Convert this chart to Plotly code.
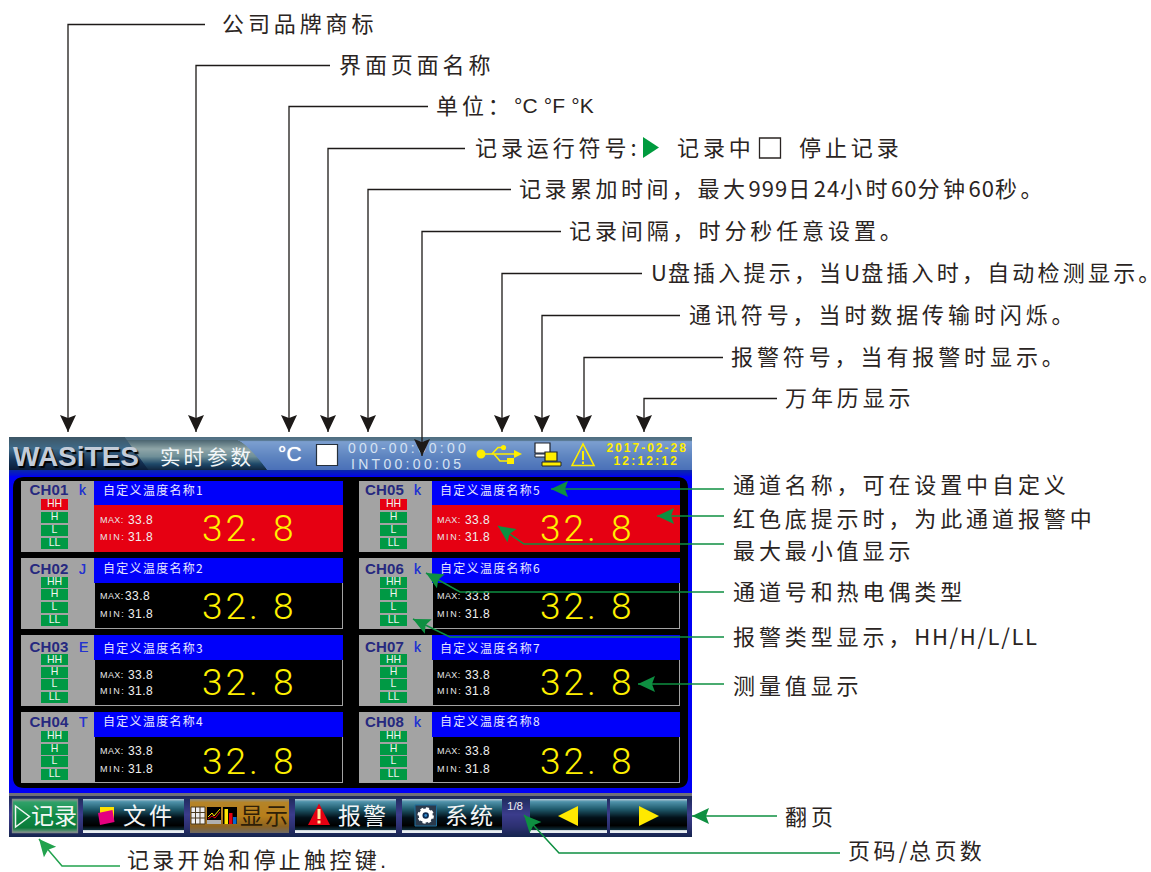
import re
import plotly.graph_objects as go

# ---------- data ----------
CHANNELS = ["CH01", "CH02", "CH03", "CH04", "CH05", "CH06", "CH07", "CH08"]
TC_TYPES = ["k", "J", "E", "T", "k", "k", "k", "k"]
NAMES = ["自定义温度名称%d" % i for i in range(1, 9)]
MAX_VALUES = ["33.8"] * 8
MIN_VALUES = ["31.8"] * 8
READINGS = ["32. 8"] * 8
ALARMING = [True, False, False, False, True, False, False, False]
ALARM_TAGS = ["HH", "H", "L", "LL"]
BUTTONS = ["记录", "文件", "显示", "报警", "系统"]

BLACK_LABELS = [
    ("公司品牌商标", 222, 24, 68, 205, 3.9),
    ("界面页面名称", 339, 65, 196, 330, 3.9),
    ("单位：", 436, 106, 289, 428, 3.9),
    ("记录运行符号:", 475, 148, 328, 465, 3.9),
    ("记录累加时间，最大999日24小时60分钟60秒。", 519, 189, 368, 511, 3.5),
    ("记录间隔，时分秒任意设置。", 569, 231, 422, 561, 3.9),
    ("U盘插入提示，当U盘插入时，自动检测显示。", 651, 273, 502, 642, 3.2),
    ("通讯符号，当时数据传输时闪烁。", 689, 315, 542, 680, 3.9),
    ("报警符号，当有报警时显示。", 731, 357, 584, 723, 3.9),
    ("万年历显示", 785, 398, 644, 777, 3.9),
]
GREEN_LABELS = [
    ("通道名称，可在设置中自定义", 733, 485, 3.9),
    ("红色底提示时，为此通道报警中", 733, 519, 3.9),
    ("最大最小值显示", 733, 551, 3.9),
    ("通道号和热电偶类型", 733, 592, 3.9),
    ("报警类型显示，HH/H/L/LL", 733, 637, 3.9),
    ("测量值显示", 733, 686, 3.9),
    ("翻页", 785, 817, 3.9),
    ("页码/总页数", 848, 851, 3.4),
]
BOTTOM_LABEL = ("记录开始和停止触控键.", 127, 862, 3.3)

CJK = "Noto Sans CJK SC"
SANS = "Liberation Sans"
INK = "#2a2422"
GREEN = "#0e8f41"

shapes = []
traces = []


def rect(x0, y0, x1, y1, fill, line=None, lw=1, layer="below"):
    shapes.append(dict(type="rect", x0=x0, y0=y0, x1=x1, y1=y1, fillcolor=fill, layer=layer,
                       line=dict(color=line, width=lw) if line else dict(width=0)))


def poly(points, fill=None, line=None, lw=1, close=True, layer="below"):
    d = "M" + " L".join("%.2f %.2f" % p for p in points) + (" Z" if close else "")
    shapes.append(dict(type="path", path=d, fillcolor=fill or "rgba(0,0,0,0)", layer=layer,
                       line=dict(color=line, width=lw) if line else dict(width=0)))


def circle(cx, cy, r, fill, line=None, lw=1, dash=None):
    ln = dict(color=line, width=lw, dash=dash) if line and dash else (dict(color=line, width=lw) if line else dict(width=0))
    shapes.append(dict(type="circle", x0=cx - r, y0=cy - r, x1=cx + r, y1=cy + r, fillcolor=fill, layer="below", line=ln))


def hexrgb(c):
    return tuple(int(c[i:i + 2], 16) for i in (1, 3, 5))


def mix(stops, t):
    for (a, ca), (b, cb) in zip(stops, stops[1:]):
        if t <= b:
            k = (t - a) / (b - a) if b > a else 0
            pa, pb = hexrgb(ca), hexrgb(cb)
            return "#%02x%02x%02x" % tuple(round(pa[i] + (pb[i] - pa[i]) * k) for i in range(3))
    return stops[-1][1]


def vgrad(x0, y0, x1, y1, stops):
    y = y0
    while y < y1:
        t = (y + 0.5 - y0) / (y1 - y0)
        rect(x0(y) if callable(x0) else x0, y, x1(y) if callable(x1) else x1, y + 1, mix(stops, t))
        y += 1


def spaced(s, cjk_sp, latin_sp):
    tail = ""
    if s.endswith("。"):
        s, tail = s[:-1], '<span style="letter-spacing:-16px">。</span>'
    out = []
    for run in re.findall(r"[\x20-\x7e]+|[^\x20-\x7e]+", s):
        sp = latin_sp if run[0] < "\x7f" else cjk_sp
        out.append('<span style="letter-spacing:%.2fpx">%s</span>' % (sp, run))
    return "".join(out) + tail


def text(x, y, s, size, color, family=SANS, weight="normal", cjk_sp=0, latin_sp=0, shadow=None):
    traces.append(go.Scatter(
        x=[x], y=[y], mode="text", text=[spaced(s, cjk_sp, latin_sp)], textposition="middle right",
        textfont=dict(size=size, color=color, family=family, weight=weight, shadow=shadow or "none"),
        hoverinfo="skip", showlegend=False, cliponaxis=False))


def head(tip, frm, color, length=17, half=8):
    dx, dy = tip[0] - frm[0], tip[1] - frm[1]
    n = (dx * dx + dy * dy) ** 0.5
    ux, uy = dx / n, dy / n
    bx, by = tip[0] - ux * length, tip[1] - uy * length
    nx, ny = tip[0] - ux * (length - 3), tip[1] - uy * (length - 3)
    poly([tip, (bx - uy * half, by + ux * half), (nx, ny), (bx + uy * half, by - ux * half)], fill=color, layer="above")


def leader(points, color, lw=1.5):
    poly(points, line=color, lw=lw, close=False, layer="above")
    head(points[-1], points[-2], color)


# ---------- device frame ----------
vgrad(9, 437, 692, 470, [(0, "#4f6f80"), (0.1, "#55748c"), (0.14, "#7c9fd0"), (0.6, "#5d84c0"), (1, "#4a70b8")])
vgrad(9, 440, lambda y: 238 + (y - 440) ** 0.75 * 2.3, 470,
      [(0, "#4a6470"), (0.3, "#8fa6a8"), (0.55, "#6f8f98"), (0.8, "#1e4868"), (1, "#10253f")])
vgrad(9, 437, lambda y: 125 + (y - 437) * 0.72, 470,
      [(0, "#3d5666"), (0.35, "#3f6a88"), (0.7, "#16365a"), (1, "#0a1c38")])
vgrad(9, 470, 692, 478, [(0, "#0a28a8"), (1, "#0000f0")])
rect(9, 476, 692, 793, "#0000f5")
shapes.append(dict(type="path", layer="below", fillcolor="#000000", line=dict(width=0),
                   path="M13 488 Q13 477 24 477 L677 477 Q688 477 688 488 L688 777 Q688 788 677 788 L24 788 Q13 788 13 777 Z"))
rect(9, 793, 692, 796, "#6f6f78")
vgrad(9, 796, 692, 837, [(0, "#1c2a58"), (0.45, "#3b3c8c"), (0.75, "#2c3070"), (1, "#14244e")])

# ---------- header contents ----------
text(13, 459, "WASiTES", 28, "#c3ccd9", weight="bold", shadow="1.5px 1.5px 1px #000000")
text(160, 460, "实时参数", 20.5, "#f2f6f8", family=CJK, cjk_sp=3)
text(278, 456, "°C", 21, "#ffffff", weight="normal", shadow="0 0 1px #ffffff")
rect(316.5, 444.5, 337.5, 465.5, "#ffffff", line="#26303c", lw=1.2)
text(348, 449.5, "000-00:00:00", 14, "#d5e2f2", latin_sp=3.2)
text(351, 465, "INT00:00:05", 14, "#d5e2f2", latin_sp=3.3)
text(606.5, 449, "2017-02-28", 12, "#ffee00", weight="bold", latin_sp=2)
text(613.5, 462, "12:12:12", 12, "#ffee00", weight="bold", latin_sp=2.2)
Y = "#ffee00"
circle(481, 454, 4.5, Y)
poly([(481, 454), (516, 454)], line=Y, lw=1.6, close=False)
poly([(522, 454), (514, 450), (514, 458)], fill=Y)
poly([(492, 454), (498, 447.5), (503, 447.5)], line=Y, lw=1.6, close=False)
circle(503.5, 447.5, 2.6, Y)
poly([(494, 454), (500, 461), (508, 461)], line=Y, lw=1.6, close=False)
rect(507, 458, 514, 464, Y)
rect(535, 443, 550, 453, "#ffffff", line="#20242c", lw=1.2)
rect(535, 454, 546, 457, "#ffffff", line="#20242c", lw=1)
rect(545, 452, 557, 461, Y, line="#20242c", lw=1.2)
rect(542, 462, 561, 466, Y, line="#20242c", lw=1)
poly([(572, 465.5), (583, 444), (594, 465.5)], line=Y, lw=1.6)
rect(582, 451, 584, 460, Y)
rect(582, 461.5, 584, 464, Y)

# ---------- channel panels ----------
ROW_TOPS = [481, 558, 635, 712]
TAG_TOPS = [[499, 512, 525, 538], [577, 589, 602, 615], [654, 667, 679, 692], [731, 744, 756, 769]]
HEAD_DY = [10.5, 12, 13, 11]
NAME_DY = [10.5, 12, 15, 11]
MAX_DY = [39.5, 39, 41, 40]
MIN_DY = [57, 57, 57, 58]
READ_DY = [50.5, 51.5, 50.5, 52.5]
COL_X = [21, 359]
for i, ch in enumerate(CHANNELS):
    col, row = i // 4, i % 4
    x, top = COL_X[col], ROW_TOPS[row]
    r = 322 if col == 0 else 321
    rect(x, top, x + r, top + 71, "#a3a3a3")
    strip = 24 if row == 0 else 25
    if ALARMING[i]:
        rect(x + 73, top + strip, x + r, top + 71, "#e60012")
    else:
        rect(x + 74, top + strip, x + r - 1, top + 70, "#000000")
    rect(x + 73, top, x + r, top + strip, "#0000fa")
    text(x + (8.5 if col == 0 else 6), top + HEAD_DY[row], ch, 15, "#26297f", weight="bold", latin_sp=0.2)
    text(x + (58 if col == 0 else 55), top + HEAD_DY[row], TC_TYPES[i], 14, "#2433d0", weight="normal",
         shadow="0 0 0.6px #2433d0")
    text(x + (82 if col == 0 else 81), top + NAME_DY[row], NAMES[i], 12, "#e8e8ff", family=CJK, cjk_sp=1.3)
    for t, tag in enumerate(ALARM_TAGS):
        ty = TAG_TOPS[row][t]
        tx = x + 20 if col == 0 else x + 21
        rect(tx, ty, tx + 27, ty + 11, "#e60012" if (ALARMING[i] and t == 0) else "#009944")
        traces.append(go.Scatter(x=[tx + 13.5], y=[ty + 5.7 + (1 if row == 2 and t == 0 else 0)], mode="text", text=[tag],
                                 textposition="middle center",
                                 textfont=dict(size=10.5, color="#f0f5f0", family=SANS),
                                 hoverinfo="skip", showlegend=False))
    vx = x + 79 if col == 0 else x + 78
    text(vx, top + MAX_DY[row], "MAX:", 9, "#e8e8e8", latin_sp=0.4)
    vx2 = vx + 25 if (row == 1 and col == 0) else vx + 28
    text(vx2, top + MAX_DY[row], MAX_VALUES[i], 12, "#f0f0f0", latin_sp=0.4)
    text(vx, top + MIN_DY[row], "MIN:", 9, "#e8e8e8", latin_sp=1.6)
    text(vx + 28, top + MIN_DY[row], MIN_VALUES[i], 12, "#f0f0f0", latin_sp=0.4)
    text(x + 181, top + READ_DY[row], READINGS[i], 37, "#fff000", family="Roboto", weight=300, latin_sp=3)

# ---------- footer buttons ----------
BTN = [(0, "#b6cad6"), (0.08, "#4f92aa"), (0.3, "#1f5a6c"), (0.55, "#021018"), (0.78, "#000000"), (0.9, "#0e2c38"),
       (0.93, "#e8eef2"), (1, "#e8eef2")]
GOLD = [(0, "#8f8f80"), (0.1, "#b58428"), (0.5, "#b77e1a"), (0.8, "#8d6320"), (1, "#6f6a62")]
GRN = [(0, "#80a090"), (0.1, "#2fa068"), (0.5, "#0f8a44"), (0.85, "#0b7a3a"), (1, "#8a9a94")]
vgrad(12, 799, 78, 833, GRN)
rect(12.5, 799.5, 77.5, 832.5, "rgba(0,0,0,0)", line="#7c8a88", lw=1.3)
for bx0, bx1 in [(83, 184), (295, 396), (402, 502), (530, 607), (610, 687)]:
    vgrad(bx0, 799, bx1, 833, BTN)
vgrad(190, 799, 289, 833, GOLD)
poly([(15.5, 806), (29.5, 816.5), (15.5, 827)], line="#f0f6f2", lw=1.5)
text(31, 818, BUTTONS[0], 23, "#f3f7f4", family=CJK)
rect(100, 807, 114, 822, "#ffe100")
poly([(98, 813), (112.5, 810), (114.5, 822), (100, 825)], fill="#e5007f")
text(123, 818, BUTTONS[1], 23, "#f3f5f6", family=CJK, cjk_sp=3)
rect(191, 807, 205, 824, "#eeeeee", line="#4a3a20")
for gx in (195.5, 200):
    poly([(gx, 807), (gx, 824)], line="#4a3a20", close=False)
for gy in (812.5, 818):
    poly([(191, gy), (205, gy)], line="#4a3a20", close=False)
rect(207, 807, 221, 824, "#000000")
rect(207, 820, 221, 824, "#b0b0b0")
poly([(208, 817), (212, 813), (214, 816), (220, 809)], line="#ffe600", lw=1, close=False)
poly([(208, 819), (212, 816), (215, 818), (220, 812)], line="#e60012", lw=1, close=False)
rect(223, 807, 237, 824, "#000000")
rect(224.5, 809, 228, 824, "#ffe600")
rect(229, 813, 232.5, 824, "#e60012")
rect(233, 817, 236.5, 824, "#0068d0")
text(240, 818, BUTTONS[2], 23, "#2e2008", family=CJK, cjk_sp=2)
poly([(319, 803.5), (330, 825), (308, 825)], fill="#e60012")
rect(317.5, 809, 320.5, 819, "#ffe9a0")
rect(317.5, 820.5, 320.5, 823.5, "#ffe9a0")
text(338, 818, BUTTONS[3], 23, "#f3f5f6", family=CJK, cjk_sp=2)
rect(415, 805, 436.5, 826, "#2b3a4c", line="#1e6f9c", lw=1)
circle(425.7, 815.5, 7, "#ffffff", line="#ffffff", lw=2.5, dash="3px,2.5px")
circle(425.7, 815.5, 3.2, "#0d2a50")
circle(425.7, 815.5, 1.4, "#2f86c8")
text(445, 818, BUTTONS[4], 23, "#f3f5f6", family=CJK, cjk_sp=2)
text(507, 807, "1/8", 11.5, "#eeeeee")
poly([(558, 816), (578, 806), (578, 826)], fill="#ffe900")
poly([(639, 806), (659, 816), (639, 826)], fill="#ffe900")

# ---------- callouts ----------
for label, x, y, ax, end, sp in BLACK_LABELS:
    text(x, y + 2, label, 22, INK, family=CJK, cjk_sp=sp, latin_sp=1.0)
    tip = 456 if ax == 422 else 432
    leader([(end, y + 0.5), (ax, y + 0.5), (ax, tip)], "#1d1a18", lw=1.3)
text(514, 108, "°C °F °K", 21, INK, latin_sp=0.2, family="Liberation Sans Narrow, " + SANS)
poly([(643, 137), (659, 147.5), (643, 158)], fill="#009b3e")
text(677, 150, "记录中", 22, INK, family=CJK, cjk_sp=3.9)
rect(759.5, 138, 780.5, 158, "#ffffff", line=INK, lw=1.3)
text(799, 150, "停止记录", 22, INK, family=CJK, cjk_sp=3.9)

for label, x, y, sp in GREEN_LABELS:
    text(x, y + 2, label, 22, INK, family=CJK, cjk_sp=sp, latin_sp=1.6)
label, x, y, sp = BOTTOM_LABEL
text(x, y, label, 22, INK, family=SANS + ", " + CJK, cjk_sp=sp, latin_sp=1)
leader([(724, 489), (551, 489)], GREEN)
leader([(724, 516), (657, 516)], GREEN)
leader([(724, 544), (524, 544), (498, 526)], GREEN)
leader([(724, 592), (460, 592), (426, 573)], GREEN)
leader([(724, 637), (450, 637), (413, 619)], GREEN)
leader([(724, 684), (638, 684)], GREEN)
leader([(777, 816), (692, 816)], GREEN)
leader([(840, 853), (559, 853), (524, 815)], GREEN)
leader([(120, 866), (62, 866), (39, 839)], "#22a24e")

axis = dict(range=[0, 1151], visible=False, fixedrange=True, showgrid=False, zeroline=False)
fig = go.Figure(traces)
fig.update_layout(
    width=1151, height=872, margin=dict(l=0, r=0, t=0, b=0), paper_bgcolor="#ffffff", plot_bgcolor="#ffffff",
    xaxis=axis, yaxis=dict(axis, range=[872, 0]), shapes=shapes, showlegend=False,
)
fig.write_html("out.html", config=dict(displayModeBar=False, staticPlot=True),
               post_script="document.body.style.margin='0';document.body.style.overflow='hidden';")
